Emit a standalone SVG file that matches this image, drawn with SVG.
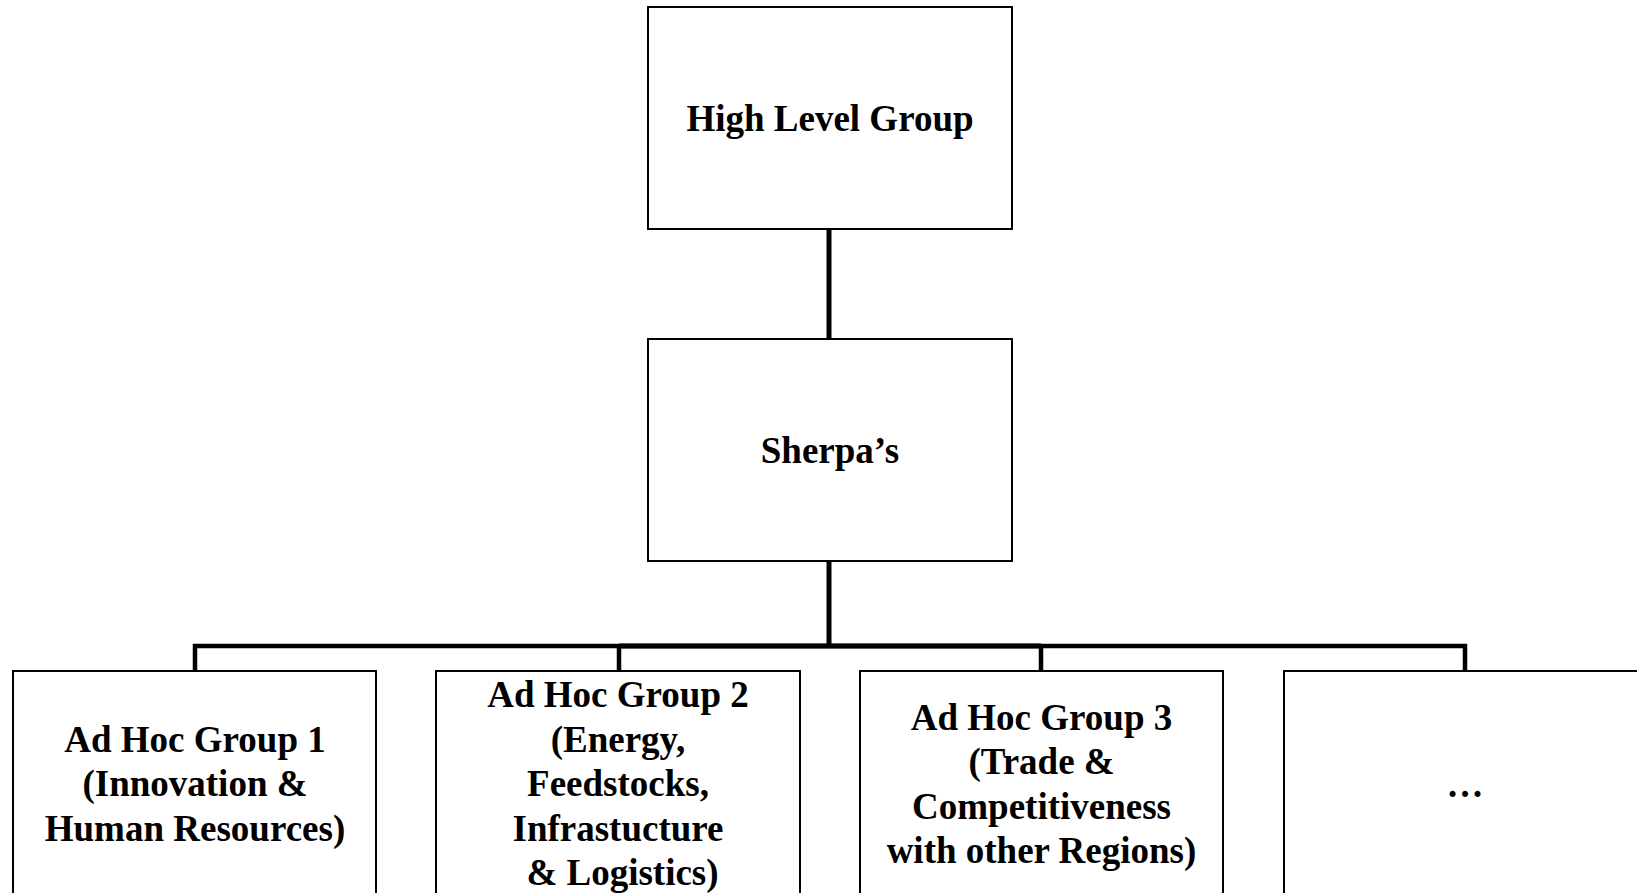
<svg xmlns="http://www.w3.org/2000/svg" width="1637" height="893" viewBox="0 0 1637 893">
<style>
.box{fill:#fff;stroke:#000;stroke-width:2}
.t{font-family:"Liberation Serif","Times New Roman",serif;font-weight:bold;font-size:37px;text-anchor:middle;fill:#000}
.c{fill:none;stroke:#000;stroke-width:4.5}
.m{fill:none;stroke:#000;stroke-width:5}
</style>
<rect width="1637" height="893" fill="#fff"/>
<g id="connectors">
<line class="m" x1="829" y1="229" x2="829" y2="339"/>
<line class="m" x1="829" y1="561" x2="829" y2="646"/>
<polyline class="c" points="195,671 195,646 1465,646 1465,671"/>
<line class="m" x1="619" y1="646" x2="1041" y2="646"/>
<line class="c" x1="619" y1="646" x2="619" y2="671"/>
<line class="c" x1="1041" y1="646" x2="1041" y2="671"/>
</g>
<g id="high-level-group">
<rect class="box" x="648" y="7" width="364" height="222"/>
<text class="t" x="830" y="131">High Level Group</text>
</g>
<g id="sherpas">
<rect class="box" x="648" y="339" width="364" height="222"/>
<text class="t" x="830" y="463">Sherpa’s</text>
</g>
<g id="adhoc1">
<rect class="box" x="13" y="671" width="363" height="240"/>
<text class="t" x="195" y="751.5">Ad Hoc Group 1</text>
<text class="t" x="195" y="796">(Innovation &amp;</text>
<text class="t" x="195" y="840.5">Human Resources)</text>
</g>
<g id="adhoc2">
<rect class="box" x="436" y="671" width="364" height="240"/>
<text class="t" x="618" y="707">Ad Hoc Group 2</text>
<text class="t" x="618" y="751.5">(Energy,</text>
<text class="t" x="618" y="796">Feedstocks,</text>
<text class="t" x="618" y="840.5">Infrastucture</text>
<text class="t" x="622.5" y="885">&amp; Logistics)</text>
</g>
<g id="adhoc3">
<rect class="box" x="860" y="671" width="363" height="240"/>
<text class="t" x="1041.5" y="729.5">Ad Hoc Group 3</text>
<text class="t" x="1041.5" y="774">(Trade &amp;</text>
<text class="t" x="1041.5" y="818.5">Competitiveness</text>
<text class="t" x="1041.5" y="863">with other Regions)</text>
</g>
<g id="more">
<rect class="box" x="1284" y="671" width="364" height="240"/>
<text class="t" x="1465" y="796.5">…</text>
</g>
</svg>
